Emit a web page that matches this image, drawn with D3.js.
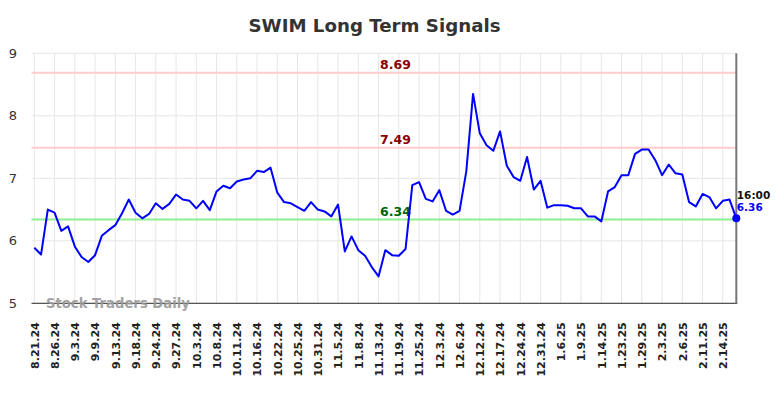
<!DOCTYPE html>
<html><head><meta charset="utf-8">
<script src="https://cdn.jsdelivr.net/npm/d3@7"></script>
<style>body{margin:0;background:#fff}svg{display:block;font-family:"DejaVu Sans",sans-serif}</style>
</head><body><svg id="c" width="784" height="398"></svg>
<script>
const title = "SWIM Long Term Signals";
const xLabels = ["8.21.24","8.26.24","9.3.24","9.9.24","9.13.24","9.18.24","9.24.24","9.27.24","10.3.24","10.8.24","10.11.24","10.16.24","10.22.24","10.25.24","10.31.24","11.5.24","11.8.24","11.13.24","11.19.24","11.25.24","12.3.24","12.6.24","12.12.24","12.17.24","12.24.24","12.31.24","1.6.25","1.9.25","1.14.25","1.23.25","1.29.25","2.3.25","2.6.25","2.11.25","2.14.25"];
const values = [5.89,5.78,6.50,6.45,6.16,6.23,5.91,5.74,5.66,5.77,6.08,6.17,6.25,6.44,6.66,6.45,6.36,6.43,
 6.60,6.51,6.59,6.74,6.66,6.64,6.52,6.64,6.49,6.79,6.88,6.84,6.95,6.98,7.00,7.12,7.10,7.17,
 6.77,6.62,6.60,6.54,6.48,6.62,6.50,6.47,6.39,6.58,5.83,6.07,5.85,5.76,5.58,5.43,5.85,
 5.77,5.76,5.87,6.89,6.94,6.67,6.63,6.81,6.48,6.42,6.48,7.11,8.35,7.72,7.53,7.44,7.75,
 7.20,7.02,6.96,7.34,6.82,6.96,6.53,6.57,6.57,6.56,6.52,6.52,6.39,6.39,6.31,6.79,
 6.86,7.05,7.05,7.39,7.46,7.46,7.29,7.05,7.22,7.08,7.06,6.62,6.55,6.75,6.70,6.52,6.64,6.66,6.36];
const yTicks = [5,6,7,8,9];
const levels = [8.69, 7.49, 6.34];
const levelKinds = ["resist","resist","support"];
const lastTime = "16:00";
const watermark = "Stock Traders Daily";
const labelStep = 3;

const svg = d3.select("#c");
const x = d3.scaleLinear().domain([0, values.length - 1]).range([34.3, 736.3]);
const y = d3.scaleLinear().domain([5, 9]).range([303.3, 53.3]);
const left = 31.5, right = 736.3;

// title
svg.append("text").attr("x", 374.5).attr("y", 32).attr("text-anchor", "middle")
  .attr("font-size", 18.2).attr("font-weight", "bold").attr("fill", "#333").text(title);

// vertical grid
const tickIdx = xLabels.map((d, i) => i * labelStep);
svg.append("g").selectAll("line").data(tickIdx).join("line")
  .attr("x1", d => x(d)).attr("x2", d => x(d)).attr("y1", y(9)).attr("y2", y(5))
  .attr("stroke", "#e6e6e6").attr("stroke-width", 1);
// horizontal grid
svg.append("g").selectAll("line").data(yTicks).join("line")
  .attr("x1", left).attr("x2", right).attr("y1", d => y(d)).attr("y2", d => y(d))
  .attr("stroke", "#e6e6e6").attr("stroke-width", 1);

// y tick labels
svg.append("g").selectAll("text").data(yTicks).join("text")
  .attr("x", 17).attr("y", d => y(d) + 4.5).attr("text-anchor", "end")
  .attr("font-size", 13).attr("fill", "#333").text(d => d);

// x axis
const xAxis = d3.axisBottom(x).tickValues(tickIdx).tickSize(0)
  .tickFormat((d, i) => xLabels[i]);
const gx = svg.append("g").attr("transform", `translate(0,${y(5)})`).call(xAxis);
gx.select(".domain").remove();
gx.selectAll("text").attr("font-family", "DejaVu Sans").attr("font-size", 11)
  .attr("font-weight", "bold").attr("fill", "#222")
  .attr("text-anchor", "end").attr("transform", "rotate(-90)")
  .attr("x", -19).attr("y", 0).attr("dy", "0.35em");

// bottom line
svg.append("line").attr("x1", left).attr("x2", right + 1).attr("y1", y(5)).attr("y2", y(5))
  .attr("stroke", "#555").attr("stroke-width", 1.2);

// watermark
svg.append("text").attr("x", 46).attr("y", 307.5).attr("font-size", 13.2).attr("font-weight", "bold")
  .attr("fill", "#999").attr("opacity", 0.9).text(watermark);

// level lines
levels.forEach((lv, i) => {
  const sup = levelKinds[i] === "support";
  svg.append("line").attr("x1", left).attr("x2", right).attr("y1", y(lv)).attr("y2", y(lv))
    .attr("stroke", sup ? "#90ee90" : "#ffcccc").attr("stroke-width", 2);
  svg.append("text").attr("x", 395.5).attr("y", y(lv) - 3.8).attr("text-anchor", "middle")
    .attr("font-size", 12.5).attr("font-weight", "bold")
    .attr("fill", sup ? "#006400" : "#8b0000").text(lv.toFixed(2));
});

// right vertical line
svg.append("line").attr("x1", right).attr("x2", right).attr("y1", y(9)).attr("y2", y(5))
  .attr("stroke", "#777").attr("stroke-width", 2);

// series line
const line = d3.line().x((d, i) => x(i)).y(d => y(d));
svg.append("path").datum(values).attr("d", line).attr("fill", "none")
  .attr("stroke", "#0000ff").attr("stroke-width", 2).attr("stroke-linejoin", "round");

// end marker
const li = values.length - 1;
svg.append("circle").attr("cx", x(li)).attr("cy", y(values[li])).attr("r", 4).attr("fill", "#0000ff");
svg.append("text").attr("x", x(li) + 0.5).attr("y", 198.5).attr("font-size", 10.5)
  .attr("font-weight", "bold").attr("fill", "#111").text(lastTime);
svg.append("text").attr("x", x(li) + 0.5).attr("y", 211).attr("font-size", 10.5)
  .attr("font-weight", "bold").attr("fill", "#0000ff").text(values[li].toFixed(2));
</script></body></html>
